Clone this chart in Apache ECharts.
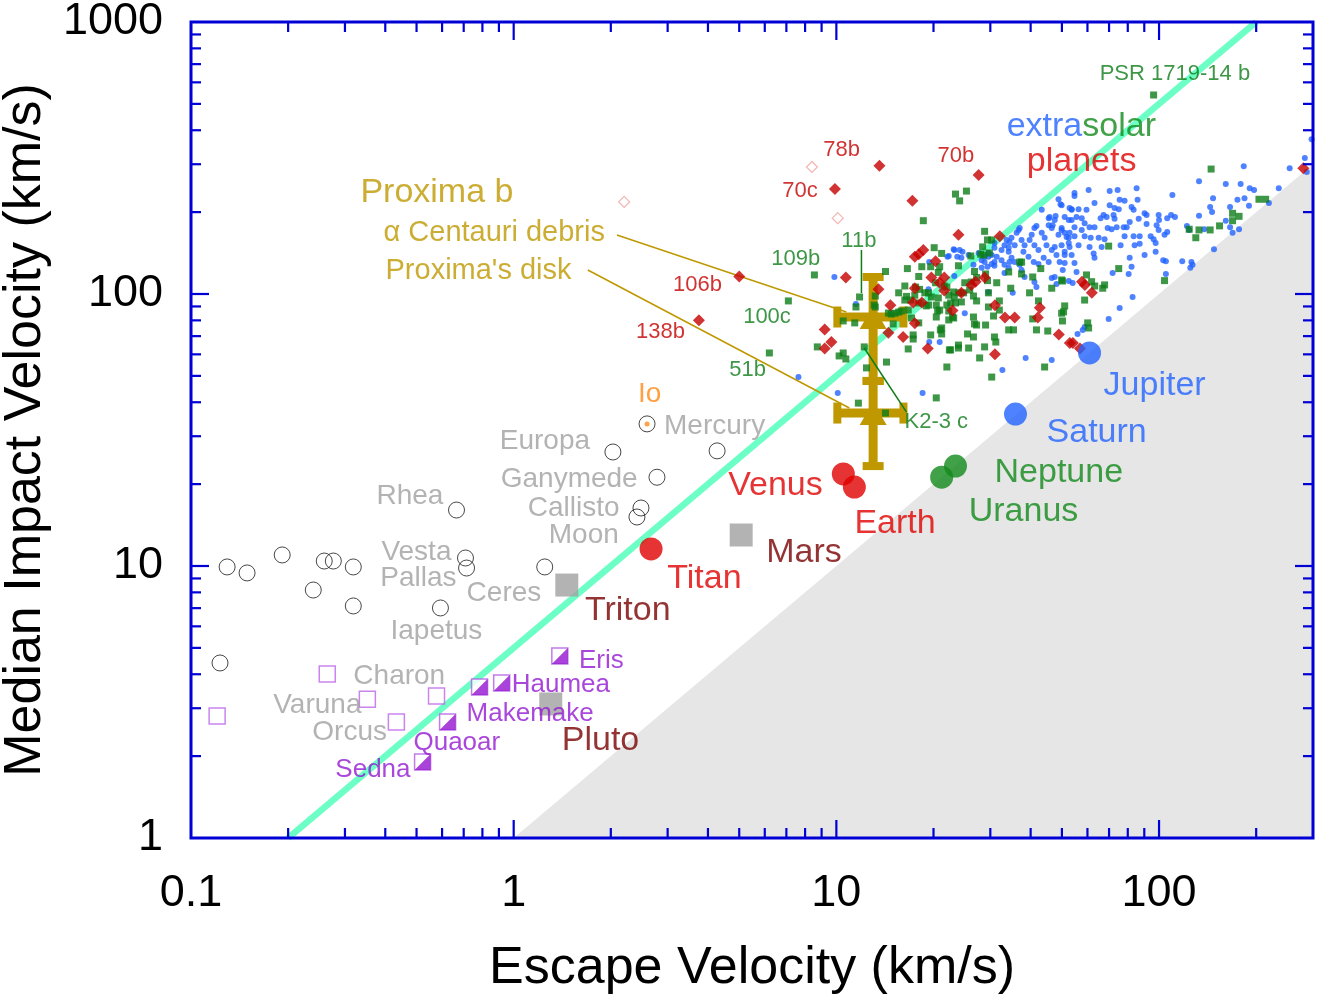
<!DOCTYPE html>
<html><head><meta charset="utf-8">
<script src="https://cdn.jsdelivr.net/npm/echarts@6/dist/echarts.min.js"></script>
<style>html,body{margin:0;padding:0;background:#fff}#c{width:1324px;height:997px}</style>
</head><body><div id="c"></div><script>
// ---------- axis ticks ----------
const xMajorTicks = [1, 10, 100];
const xMinorTicks = [0.2,0.3,0.4,0.5,0.6,0.7,0.8,0.9,2,3,4,5,6,7,8,9,20,30,40,50,60,70,80,90,200];
const yMajorTicks = [10, 100];
const yMinorTicks = [2,3,4,5,6,7,8,9,20,30,40,50,60,70,80,90,200,300,400,500,600,700,800,900];

// ---------- reference lines / regions ----------
const cyanLineX = [0.2, 200];
const cyanLineY = [1, 1000];
const grayRegionX = [1, 300, 300];
const grayRegionY = [1, 300, 1];

// ---------- solar system bodies [escape velocity, median impact velocity] ----------
const bigBlue = [[60.9,60.7],[35.9,36.2]];            // Jupiter, Saturn
const bigGreen = [[23.4,23.3],[21.2,21.2]];           // Neptune, Uranus
const bigRed = [[10.51,21.8],[11.37,19.5],[2.665,11.55]]; // Venus, Earth, Titan
const graySquares = [[5.07,13.0],[1.461,8.51],[1.303,3.11]]; // Mars, Triton, Pluto
const openCircles = [[4.27,26.5],[2.03,26.25],[2.78,21.2],[2.48,16.34],[2.41,15.14],[0.665,16.06],
  [0.709,10.7],[0.7145,9.83],[1.248,9.92],[0.593,7.01],[2.59,33.3],
  [0.1294,9.92],[0.1492,9.43],[0.1917,10.98],[0.2588,10.43],[0.2761,10.43],[0.3184,9.92],
  [0.2393,8.16],[0.3184,7.13],[0.123,4.40]];
const ioDot = [[2.59,33.3]];
const openSquares = [[0.1205,2.81],[0.2644,4.01],[0.352,3.24],[0.433,2.67],[0.5766,3.33]];
const halfSquares = [[1.39,4.67],[0.784,3.59],[0.918,3.715],[0.624,2.67],[0.522,1.903]];

// ---------- Proxima b error crosses ----------
const proximaX = [13.0, 13.0];
const proximaY = [82.3, 36.5];
const proximaXLow = [10.07, 10.07];
const proximaXHigh = [16.14, 16.14];
const proximaYLow = [47.9, 23.3];
const proximaYHigh = [115.5, 47.9];

// ---------- leader lines ----------
const leaderAlpha = [[2.089,164.8],[10.74,85.9]];
const leaderDisk = [[1.697,122.5],[10.97,38.1]];
const leader11b = [[11.96,145.1],[11.96,100.9]];
const leaderK23 = [[12.2,63.3],[16.5,36.8]];

// ---------- extrasolar planets ----------
const exoBlue = [
[297,371],[283,316],[287,281],[254,290],[183,295],[133,260],[161,254],[179,254],[191,245],[197,241],[235,245],[147,225],[175,222],[184,225],[190,211],[219,216],[144,209],[146,200],[166,209],[133,194],[161,186],[166,176],[169,168],[177,173],[138,173],[122,178],[124,172],[148,146],[110,231],[85.2,245],[74.4,241],[70.3,239],[60.5,241],[54.7,235],[54.7,229],[63.1,216],[75.5,222],[78.2,220],[85.8,222],[70.3,212],[72.8,207],[75.0,205],[82.2,209],[83.4,204],[49.9,212],[53.6,205],[56.3,205],[59.6,204],[67.3,195],[65.9,190],[68.8,192],[72.3,195],[72.8,189],[90.2,198],[91.5,195],[99.7,195],[100,187],[109,195],[112,192],[106,190],[81.1,184],[77.7,176],[79.4,176],[86.5,189],[91.5,181],[98.3,179],[99.7,172],[51.0,192],[53.6,187],[55.5,192],[57.6,190],[58.8,182],[54.7,176],[57.6,172],[60.9,176],[63.1,176],[69.3,175],[71.3,173],[73.9,176],[78.2,163],[83.4,163],[87.1,163],[94.2,163],[96.2,159],[104,165],[106,169],[97.6,154],[49.9,172],[51.7,162],[54.7,163],[58.8,163],[61.4,161],[65.0,161],[67.8,159],[52.5,154],[56.3,151],[60.9,149],[66.4,149],[76.0,151],[84.0,151],[87.1,153],[90.2,139],[97.6,143],[103,133],[105,132],[81.1,136],[82.2,126],[62.7,141],[63.1,136],[51.0,139],[54.7,130],[118,132],[126,131],[127,128],[125,125],[71.8,119.5],[80.5,118.5],[105,118.5],[55.5,120.5],[52.5,111.6],[54.0,109.7],[82.8,97.5],[75.5,88.8],[69.8,81],[55.9,71.3],[58.0,73.8],[58.8,75.7],
[48.8,223],[49.5,214],[43.3,204],[52.8,207],[47.8,193.5],[52.5,187],[45.5,190],[45.5,179],[46.8,179],[46.5,175],[41.7,178],[37.0,175],[36.7,172],[48.8,165],[51.0,168],[52.5,161],[43.3,168],[44.2,161],[40.3,165],[39.7,158],[34.9,161],[34.4,155],[35.7,151],[37.5,158],[38.3,151],[38.0,143],[33.2,151],[32.5,145],[30.9,148],[30.3,139],[31.4,137],[41.1,151],[42.3,145],[44.8,151],[46.5,145],[47.5,149],[49.9,151],[51.0,143],[52.8,149],[53.6,139],[34.2,143],[34.9,136],[39.4,137],[40.9,131],[43.9,136],[45.5,131],[48.1,139],[49.2,131],[28.8,131],[29.6,137],[30.9,131],[32.5,133],[33.2,128],[35.7,131],[37.0,128],[42.3,129],[51.0,130],[30.3,129],[30.9,127],[33.2,119.5],[46.5,114.5],[28.2,125],[24.6,143],[24.4,136],
[53.6,204],[45.8,192],[47.5,187],[36.2,168],[41.1,175],[49.9,175],[52.8,168],[33.7,158],[34.2,148],[30.9,154],[29.6,141.5],[28.8,137],[28.2,133],[34.4,131],[27.6,141.5],[25.7,139],[22.3,138],[23.2,145],[24.1,145],[26.6,128],[29.4,126],[34.2,125],[37.5,122.6],[38.3,115.5],[41.1,110.7],[41.7,106],[47.5,115.5],[48.1,108.8],[50.3,122.6],[29.6,101.7],[35.2,101],[23.2,116.5],[19.3,104],[25.0,85],[19.4,66.6],[20.9,66.6],[38.6,58.2],[32.7,52.6],[46.5,57.2],[9.86,115.5],[11.5,91.9],[19.4,131],[7.63,49.5],[10.1,43.3],[18.5,43.3],[22.1,137],[23.7,137],[23.1,146]
];
const exoGreen = [
[25.3,239],[23.4,233],[24.1,220],[18.6,186],[28.8,170],[29.4,158],[28.4,149],[20.1,148],[21.2,141],[26.1,138],[23.9,127],[18.4,126],[19.6,126],[20.9,126],[20.7,120],[16.6,124],[14.2,121],[18.0,116],[26.8,121],[27.2,115],[29.4,112],[31.4,110],[20.3,110],[21.6,107],[25.0,110],[23.9,101],[25.9,103.5],[16.3,107],[17.6,106],[18.1,104],[15.6,101],[16.5,98],[17.5,99],[19.3,101],[19.7,97.5],[20.7,96.7],[22.3,99],[23.2,97.5],[22.6,92.7],[23.4,92.7],[20.4,91],[19.0,90.4],[24.8,101],[29.6,101],[27.2,94.3],[11.8,97.5],[11.5,89.6],[13.2,89.6],[16.3,95],[17.0,95],[15.9,86.6],[14.8,84.4],[15.2,85],[20.6,86.6],[22.3,86.6],[23.1,81.6],[22.3,80.3],[18.0,78.3],[34.7,105],[32.0,94.3],[30.7,83],[32.0,87.3],[37.5,131],[37.5,118.5],[40.6,115.5],[39.7,101],[43.0,124],[46.5,105],[50.2,111.6],[42.3,94.3],[49.9,85],[50.2,79.6],[40.6,81],[34.2,73.8],[35.4,73.8],[41.7,73.8],[45.2,73.1],[26.8,77.6],[25.5,71.3],[26.6,69.5],[30.9,69.5],[31.2,66.6],[28.8,63.9],[25.7,63.3],[22.6,62.3],[23.9,63.3],[21.0,73.8],[21.2,71.3],[19.6,70.7],[17.3,70.7],[17.3,68.3],[16.7,62.8],[27.8,58.2],[22.0,53.9],[30.3,49.5],[44.2,53.9],[14.3,56.2],[12.4,53.5],[12.2,63.9],[10.5,60.7],[10.7,57.7],[10.2,59.2],[10.5,79.6],[11.4,78.3],[13.2,98.3],[8.55,117.5],[7.1,94.3],[8.73,63.9],[20.4,41.5],[11.7,39.7],[14.2,36.5],[14.5,85.1],[13.1,91.1],[145,288],[204,223],[214,223],[169,198],[177,193],[169,186],[154,178],[124,173],[133,172],[144,172],[130,161],[69.8,150],[75.0,124],[59.6,117.5],[61.8,111],[63.2,107],[67.8,108],[66.9,105],[58.8,95],[51.0,90.4],[50.6,86],[104,112],[60.1,78.3],[60.5,75],[49.9,112.6],[96.2,539],[6.2,60.7],[28.0,140],[37.0,131],[34.2,120.5],[29.0,118.5],[26.2,110.7],[28.6,139],[29.8,141.5],[30.3,158],[22.0,106],[23.1,101.7],[18.8,101],[18.0,92.7],[19.3,91.1],[22.0,91.1],[24.4,93.5],[20.9,87.3],[16.7,87.3],[15.6,85.8],[17.1,81.6],[20.4,82.3],[22.9,82.3],[26.6,98.3],[26.6,82.3],[29.6,89.6],[27.2,76.9],[29.0,76.9],[21.2,75],[15.0,77.6],[23.9,64.9],[22.4,62.3]
];
const exoRed = [
[13.6,296],[27.6,274],[9.9,243],[5.0,116],[3.75,80],[17.2,220],[23.9,165],[32.1,163],[18.0,140],[18.6,145],[20.3,132],[10.7,115],[13.5,104],[19.7,115],[21.6,115],[27.0,111],[28.8,115],[14.7,91],[17.3,93],[18.4,93],[22.9,87],[17.5,78],[14.5,72],[16.1,69.5],[19.2,63],[9.2,74],[9.65,66.6],[9.2,63],[31.0,91],[33.3,82],[35.7,82],[42.7,89],[42.1,82],[48.9,71],[31.0,60],[52.9,66],[280,290],[57.7,111],[58.9,108],[61.9,101],[54.1,66],[56.9,63],[17.5,105],[24.4,101],[20.9,110],[21.6,103],[26.2,108],[17.5,137]
];
const exoRedOpen = [[2.2,218],[8.4,293],[10.1,190]];

// ---------- text labels: [text, anchor escape velocity, anchor impact velocity] ----------
const labelsBlue = [['Jupiter',67.3,46.7],['Saturn',44.8,31.35]];
const labelsGreen = [['Neptune',30.9,22.35],['Uranus',25.7,16.06]];
const labelsRed = [['Venus',4.62,20.02],['Earth',11.37,14.51],['Titan',2.99,9.11],['planets',38.9,311]];
const labelsDarkRed = [['Mars',6.06,11.35],['Triton',1.662,6.95],['Pluto',1.409,2.312]];
const labelsExtrasolar = [['extrasolar',33.7,418]];
const labelsGoldBig = [['Proxima b',0.3348,239]];
const labelsGold = [['\u03b1 Centauri debris',0.3948,170.4],["Proxima's disk",0.4005,123.6]];
const labelsOrange = [['Io',2.427,43.6]];
const labelsGray = [['Mercury',2.923,33.3],['Europa',0.905,29.3],['Ganymede',0.9114,21.25],['Callisto',1.105,16.62],
  ['Moon',1.284,13.22],['Rhea',0.3755,18.4],['Vesta',0.389,11.45],['Pallas',0.386,9.19],['Ceres',0.7145,8.09],
  ['Iapetus',0.415,5.87],['Charon',0.3184,4.01],['Varuna',0.1798,3.136],['Orcus',0.2376,2.495]];
const labelsPurple = [['Eris',1.592,4.55],['Haumea',0.9858,3.715],['Makemake',0.7145,2.905],['Quaoar',0.489,2.273],['Sedna',0.28,1.809]];
const labelsExoRed = [['78b',9.11,344],['70b',20.58,327],['70c',6.80,243],['106b',3.117,109.8],['138b',2.392,73.7]];
const labelsExoGreen = [['109b',6.28,136.8],['11b',10.36,159.3],['100c',5.14,83.7],['51b',4.653,53.4],['K2-3 c',16.26,34.4],['PSR 1719-14 b',65.45,655]];

// ================= rendering =================
const FONT = '"Liberation Sans", Arial, Helvetica, sans-serif';
const AXIS_BLUE = '#0000d6';
const GOLD = '#bf9800';
const BLUE = '#2263ff';
const GREEN = '#0d7d18';
const BIGGREEN = '#118a1a';
const RED = '#e00000';
const DARKRED = '#780000';
const EXORED = '#c60000';

function isDecade(v){ const l = Math.log10(v); return Math.abs(l - Math.round(l)) < 1e-6; }
function fmt(v){ return isDecade(v) ? String(Math.round(v*1000)/1000) : ''; }

function pts(sName, data, symbol, size, itemStyle, z){
  return {type:'scatter', name:sName, data:data, symbol:symbol, symbolSize:size, itemStyle:itemStyle,
          z:z, silent:true, emphasis:{disabled:true}, animation:false};
}
function labels(items, color, size, z, extraLabel){
  return {type:'scatter', data: items.map(d => ({name:d[0], value:[d[1], d[2]]})), symbol:'circle', symbolSize:0.1,
    itemStyle:{color:'rgba(0,0,0,0)'}, silent:true, z:z||20, emphasis:{disabled:true}, clip:false,
    label:Object.assign({show:true, position:'right', distance:0, offset:[0, 2], formatter:'{b}', color:color, fontSize:size, fontFamily:FONT}, extraLabel||{})};
}
function leader(data, color){
  return {type:'line', data:data, symbol:'none', lineStyle:{color:color, width:1.5}, z:4, silent:true, animation:false};
}

const tickData = []
  .concat(xMajorTicks.map(v => [v, 1, 0, 18]))
  .concat(xMinorTicks.map(v => [v, 1, 0, 10]))
  .concat(yMajorTicks.map(v => [1, v, 1, 18]))
  .concat(yMinorTicks.map(v => [1, v, 1, 10]));

const series = [];
series.push({type:'custom', data:[[1,1]], z:1, silent:true, animation:false,
  renderItem:(params, api) => ({type:'polygon', shape:{points: grayRegionX.map((x,i) => api.coord([x, grayRegionY[i]]))},
    style:{fill:'#e6e6e6'}})});
series.push({type:'line', data: cyanLineX.map((x,i) => [x, cyanLineY[i]]), symbol:'none',
  lineStyle:{color:'#6cffc6', width:6.5}, z:2, silent:true, animation:false});
series.push({type:'custom', z:3, silent:true, animation:false,
  data: proximaX.map((x,i) => [x, proximaY[i], proximaXLow[i], proximaXHigh[i], proximaYLow[i], proximaYHigh[i]]),
  renderItem:(params, api) => {
    const c = api.coord([api.value(0), api.value(1)]);
    const xl = api.coord([api.value(2), api.value(1)])[0];
    const xh = api.coord([api.value(3), api.value(1)])[0];
    const yl = api.coord([api.value(0), api.value(4)])[1];
    const yh = api.coord([api.value(0), api.value(5)])[1];
    const T = 9, CAP = 21, CT = 8, st = {fill: GOLD};
    return {type:'group', children:[
      {type:'rect', shape:{x:xl, y:c[1]-T/2, width:xh-xl, height:T}, style:st},
      {type:'rect', shape:{x:c[0]-T/2, y:yh, width:T, height:yl-yh}, style:st},
      {type:'rect', shape:{x:xl-CT/2, y:c[1]-CAP/2, width:CT, height:CAP}, style:st},
      {type:'rect', shape:{x:xh-CT/2, y:c[1]-CAP/2, width:CT, height:CAP}, style:st},
      {type:'rect', shape:{x:c[0]-CAP/2, y:yh-CT/2, width:CAP, height:CT}, style:st},
      {type:'rect', shape:{x:c[0]-CAP/2, y:yl-CT/2, width:CAP, height:CT}, style:st},
      {type:'polygon', shape:{points:[[c[0], c[1]-11],[c[0]+13.5, c[1]+12],[c[0]-13.5, c[1]+12]]}, style:st}
    ]};
  }});
series.push(leader(leaderAlpha, GOLD));
series.push(leader(leaderDisk, GOLD));
series.push(leader(leader11b, GREEN));
series.push(leader(leaderK23, GREEN));

series.push(pts('exoBlue', exoBlue, 'circle', 6, {color:BLUE}, 5));
series.push(pts('exoGreen', exoGreen, 'rect', 7, {color:GREEN}, 6));
series.push(pts('exoRed', exoRed, 'diamond', 12, {color:EXORED}, 7));
series.push(pts('exoRedOpen', exoRedOpen, 'diamond', 11, {color:'rgba(255,255,255,0)', borderColor:'#f2a0a0', borderWidth:1.2}, 7));

series.push(pts('openCircles', openCircles, 'circle', 16, {color:'rgba(255,255,255,0)', borderColor:'#1a1a1a', borderWidth:1}, 8));
series.push(pts('io', ioDot, 'circle', 5, {color:'#ff8c1a'}, 8));
series.push(pts('openSquares', openSquares, 'rect', 16, {color:'rgba(255,255,255,0)', borderColor:'#bb66e8', borderWidth:1.5}, 8));
series.push(pts('halfSquaresOutline', halfSquares, 'rect', 16, {color:'#fff', borderColor:'#b25ae6', borderWidth:1.5}, 8));
series.push(pts('halfSquaresFill', halfSquares, 'path://M1,0L1,1L0,1Z', 16, {color:'#9414d0'}, 9));
series.push(pts('graySquares', graySquares, 'rect', 23, {color:'#a0a0a0'}, 8));
series.push(pts('bigRed', bigRed, 'circle', 23, {color:RED}, 8));
series.push(pts('bigGreen', bigGreen, 'circle', 23, {color:BIGGREEN}, 8));
series.push(pts('bigBlue', bigBlue, 'circle', 23, {color:BLUE}, 8));

series.push(labels(labelsBlue, BLUE, 34));
series.push(labels(labelsGreen, BIGGREEN, 34));
series.push(labels(labelsRed, RED, 34));
series.push(labels(labelsDarkRed, DARKRED, 34));
series.push(labels(labelsExtrasolar, BLUE, 34, 20, {formatter:'{a|extra}{g|solar}',
  rich:{a:{color:BLUE, fontSize:34, fontFamily:FONT}, g:{color:BIGGREEN, fontSize:34, fontFamily:FONT}}}));
series.push(labels(labelsGoldBig, GOLD, 34));
series.push(labels(labelsGold, GOLD, 29));
series.push(labels(labelsOrange, '#ff8a14', 28));
series.push(labels(labelsGray, '#a0a0a0', 28));
series.push(labels(labelsPurple, '#9418d2', 26));
series.push(labels(labelsExoRed, EXORED, 22));
series.push(labels(labelsExoGreen, GREEN, 22));

// ticks + frame
series.push({type:'custom', data:tickData, z:30, silent:true, animation:false, clip:false,
  renderItem:(params, api) => {
    const cs = params.coordSys, kind = api.value(2), len = api.value(3);
    const st = {stroke:AXIS_BLUE, lineWidth:2.2};
    if (kind === 0) {
      const px = api.coord([api.value(0), 1])[0];
      return {type:'group', children:[
        {type:'line', shape:{x1:px, y1:cs.y+cs.height, x2:px, y2:cs.y+cs.height-len}, style:st},
        {type:'line', shape:{x1:px, y1:cs.y, x2:px, y2:cs.y+len}, style:st}]};
    }
    const py = api.coord([1, api.value(1)])[1];
    return {type:'group', children:[
      {type:'line', shape:{x1:cs.x, y1:py, x2:cs.x+len, y2:py}, style:st},
      {type:'line', shape:{x1:cs.x+cs.width, y1:py, x2:cs.x+cs.width-len, y2:py}, style:st}]};
  }});
series.push({type:'custom', data:[[1,1]], z:31, silent:true, animation:false, clip:false,
  renderItem:(params) => {
    const cs = params.coordSys;
    return {type:'rect', shape:{x:cs.x, y:cs.y, width:cs.width, height:cs.height},
      style:{fill:'none', stroke:AXIS_BLUE, lineWidth:3}};
  }});

const chart = echarts.init(document.getElementById('c'), null, {width:1324, height:997});
chart.setOption({
  animation:false,
  backgroundColor:'#fff',
  grid:{left:191, top:22, width:1122, height:816, show:false, containLabel:false, outerBoundsMode:'none'},
  xAxis:{type:'log', logBase:10, min:0.1, max:300,
    axisLine:{show:false}, axisTick:{show:false}, splitLine:{show:false}, minorTick:{show:false},
    axisLabel:{formatter:fmt, fontSize:45, color:'#000', fontFamily:FONT, margin:33, showMaxLabel:true},
    name:'Escape Velocity (km/s)', nameLocation:'middle', nameGap:105,
    nameTextStyle:{fontSize:52, color:'#000', fontFamily:FONT}},
  yAxis:{type:'log', logBase:10, min:1, max:1000,
    axisLine:{show:false}, axisTick:{show:false}, splitLine:{show:false}, minorTick:{show:false},
    axisLabel:{formatter:fmt, fontSize:45, color:'#000', fontFamily:FONT, margin:28},
    name:'Median Impact Velocity (km/s)', nameLocation:'middle', nameGap:132,
    nameTextStyle:{fontSize:52, color:'#000', fontFamily:FONT}},
  series:series
});
</script></body></html>
